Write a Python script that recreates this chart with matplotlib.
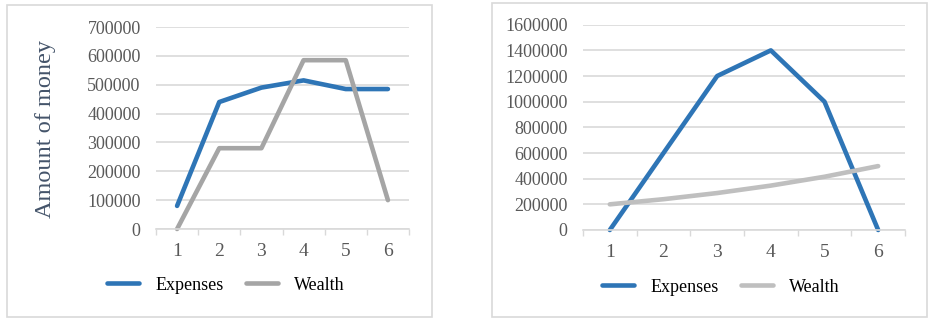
import matplotlib
matplotlib.use("Agg")
import matplotlib.pyplot as plt
from matplotlib.patches import Rectangle

categories = [1, 2, 3, 4, 5, 6]
left_expenses = [80000, 440000, 490000, 515000, 485000, 485000]
left_wealth = [0, 280000, 280000, 585000, 585000, 100000]
right_expenses = [0, 600000, 1200000, 1400000, 1000000, 0]
right_wealth = [200000, 240000, 288000, 346000, 415000, 498000]
left_yticks = [0, 100000, 200000, 300000, 400000, 500000, 600000, 700000]
right_yticks = [0, 200000, 400000, 600000, 800000, 1000000, 1200000, 1400000, 1600000]

BLUE = "#2E75B6"
GRAY_L = "#A5A5A5"
GRAY_R = "#BFBFBF"
TXT = "#595959"
GRID = "#D9D9D9"

plt.rcParams['font.family'] = ['Liberation Serif', 'DejaVu Serif']

W, H = 935, 329
fig = plt.figure(figsize=(W / 100, H / 100), dpi=100)

def px_rect(x0, y0, x1, y1):
    return [x0 / W, (H - y1) / H, (x1 - x0) / W, (y1 - y0) / H]

# panel borders
for (x0, y0, x1, y1) in [(7, 5, 432, 317), (492, 3, 927, 317)]:
    fig.patches.append(Rectangle((x0 / W, (H - y1) / H), (x1 - x0) / W, (y1 - y0) / H,
                                 transform=fig.transFigure, fill=False,
                                 edgecolor="#D9D9D9", linewidth=1.2))

def style(ax, yticks, ymax):
    ax.set_xlim(0.5, 6.5)
    ax.set_ylim(0, ymax)
    ax.set_yticks(yticks)
    ax.set_yticklabels([str(v) for v in yticks])
    ax.set_xticks(categories)
    ax.set_xticklabels([str(c) for c in categories])
    ax.set_xticks([0.5 + i for i in range(7)], minor=True)
    ax.tick_params(axis='x', which='major', length=0, pad=10, labelsize=14, colors=TXT)
    ax.tick_params(axis='x', which='minor', length=4, color=GRID, width=1)
    ax.tick_params(axis='y', length=0, pad=11, labelsize=13, colors=TXT)
    for s in ['top', 'right', 'left']:
        ax.spines[s].set_visible(False)
    ax.spines['bottom'].set_color(GRID)
    ax.spines['bottom'].set_linewidth(1.2)
    ax.grid(axis='y', color=GRID, linewidth=1.2)
    ax.set_axisbelow(True)

axL = fig.add_axes(px_rect(156, 27, 409, 229))
lE, = axL.plot(categories, left_expenses, color=BLUE, linewidth=3.3, solid_joinstyle='round', solid_capstyle='round', label="Expenses", clip_on=False)
lW, = axL.plot(categories, left_wealth, color=GRAY_L, linewidth=3.3, solid_joinstyle='round', solid_capstyle='round', label="Wealth", clip_on=False)
style(axL, left_yticks, 700000)
fig.text(46 / W, (H - 129) / H, "Amount of money", rotation=90, ha='center', va='center',
         fontsize=17.5, color="#44546A")
fig.legend(handles=[lE, lW], loc='center', bbox_to_anchor=(226 / W, (H - 285) / H),
           ncol=2, frameon=False, fontsize=13, handlelength=1.8, handletextpad=0.9,
           columnspacing=1.2, labelcolor='black')

axR = fig.add_axes(px_rect(583, 24.7, 905, 230))
rE, = axR.plot(categories, right_expenses, color=BLUE, linewidth=3.3, solid_joinstyle='round', solid_capstyle='round', label="Expenses", clip_on=False)
rW, = axR.plot(categories, right_wealth, color=GRAY_R, linewidth=3.3, solid_joinstyle='round', solid_capstyle='round', label="Wealth", clip_on=False)
style(axR, right_yticks, 1600000)
fig.legend(handles=[rE, rW], loc='center', bbox_to_anchor=(721 / W, (H - 287) / H),
           ncol=2, frameon=False, fontsize=13, handlelength=1.8, handletextpad=0.9,
           columnspacing=1.2, labelcolor='black')

fig.savefig("out.png", dpi=100)
